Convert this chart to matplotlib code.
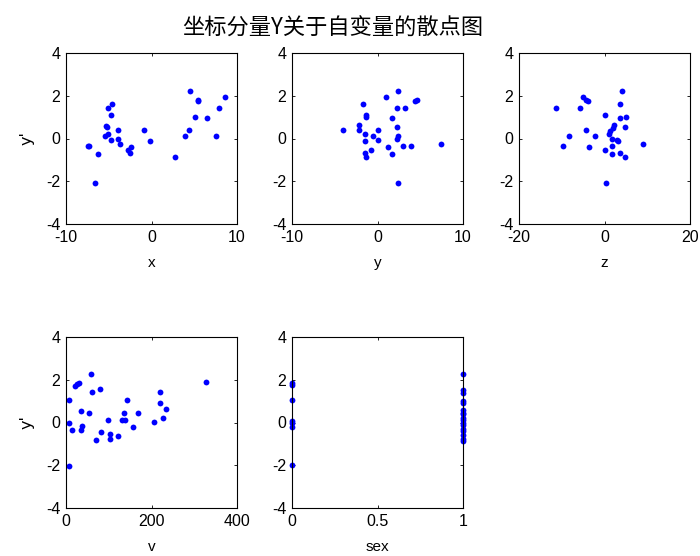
import matplotlib
matplotlib.use('Agg')
import matplotlib.pyplot as plt

# y' against x
x_vals = [-7.3, -7.4, -6.25, -6.6, -5.08, -4.57, -4.77, -5.27, -5.2, -5.43, -5.04, -4.77,
          -3.87, -3.87, -3.71, -2.7, -2.54, -2.34, -0.86, -0.2, 2.7, 3.87, 4.38, 4.53,
          5.04, 5.39, 5.39, 6.52, 7.54, 7.93, 8.6]
yp_x = [-0.35, -0.35, -0.74, -2.1, 1.43, 1.63, 1.08, 0.58, 0.52, 0.13, 0.19, -0.06,
        0.41, 0.0, -0.28, -0.52, -0.67, -0.41, 0.41, -0.14, -0.88, 0.13, 0.41, 2.23,
        1.0, 1.82, 1.76, 0.94, 0.13, 1.43, 1.96]

# y' against y
y_vals = [-3.98, -2.14, -2.14, -1.64, -1.29, -1.29, -1.44, -1.44, -1.44, -1.29, -0.78, -0.58,
          0.08, 0.08, 1.05, 1.25, 1.75, 1.75, 2.26, 2.26, 2.42, 2.26, 2.42, 2.42,
          2.96, 3.27, 3.94, 4.41, 4.64, 7.45]
yp_y = [0.41, 0.63, 0.41, 1.63, 1.08, 1.02, 0.2, -0.14, -0.67, -0.88, -0.53, 0.14,
        0.41, -0.06, 1.96, -0.41, 0.94, -0.74, 1.43, 0.53, 2.23, 0.0, 0.14, -2.1,
        -0.35, 1.43, -0.35, 1.76, 1.82, -0.28]

# y' against z
z_vals = [-11.36, -9.73, -8.4, -5.76, -5.06, -4.36, -3.97, -4.36, -3.66, -2.33, 0.0, 0.0,
          0.3, 1.0, 1.4, 1.7, 1.7, 1.7, 2.0, 2.33, 3.03, 3.1, 3.74, 3.74,
          4.12, 3.74, 4.75, 4.75, 5.13, 9.1]
yp_z = [1.41, -0.35, 0.14, 1.41, 1.96, 1.82, 1.77, 0.41, -0.41, 0.14, 1.08, -0.53,
        -2.1, 0.2, 0.35, -0.35, -0.74, 0.0, 0.49, 0.63, -0.06, -0.14, 1.63, 0.94,
        2.23, -0.67, 0.55, -0.88, 1.02, -0.28]

# y' against v
v_vals = [7.8, 7.8, 7.8, 14.8, 21, 25, 29.6, 34, 34, 38, 57.6, 54.5, 61.5, 70.8, 78.6, 81.7,
          98.8, 102, 102, 122, 132, 135, 139, 142, 156, 169, 206, 219, 219, 226, 233, 327]
yp_v = [1.04, -0.03, -2.02, -0.36, 1.72, 1.8, 1.86, 0.53, -0.36, -0.16, 2.25, 0.43, 1.44, -0.82, 1.58, -0.43,
        0.11, -0.56, -0.76, -0.62, 0.11, 0.43, 0.11, 1.04, -0.22, 0.43, 0.03, 1.44, 0.92, 0.23, 0.64, 1.91]

# y' against sex
sex_vals = [0, 0, 0, 0, 0, 0, 0,
            1, 1, 1, 1, 1, 1, 1, 1, 1, 1, 1, 1, 1, 1, 1, 1, 1]
yp_sex = [1.85, 1.75, 1.04, 0.05, -0.03, -0.2, -2.0,
          2.25, 1.5, 1.4, 1.0, 0.9, 0.6, 0.45, 0.4, 0.2, 0.1, 0.0, -0.1, -0.3, -0.4, -0.6, -0.75, -0.85]

panels = [
    (x_vals, yp_x, 'x', (-10, 10), [-10, 0, 10], ['-10', '0', '10']),
    (y_vals, yp_y, 'y', (-10, 10), [-10, 0, 10], ['-10', '0', '10']),
    (z_vals, yp_z, 'z', (-20, 20), [-20, 0, 20], ['-20', '0', '20']),
    (v_vals, yp_v, 'v', (0, 400), [0, 200, 400], ['0', '200', '400']),
    (sex_vals, yp_sex, 'sex', (0, 1), [0, 0.5, 1], ['0', '0.5', '1']),
]

W, H = 700, 556
lefts = [66, 292, 519, 66, 292]
tops = [53, 53, 53, 337, 337]
aw, ah = 171, 171

fig = plt.figure(figsize=(7, 5.56), dpi=100)
fig.patch.set_facecolor('white')

for i, (xs, ys, lab, xl, xt, xtl) in enumerate(panels):
    ax = fig.add_axes([lefts[i] / W, (H - tops[i] - ah) / H, aw / W, ah / H])
    ax.plot(xs, ys, 'o', color=(0, 0, 1), markersize=4.2, markeredgewidth=0, clip_on=False)
    ax.set_xlim(xl)
    ax.set_ylim(-4, 4)
    ax.set_xticks(xt)
    ax.set_xticklabels(xtl)
    ax.set_yticks([-4, -2, 0, 2, 4])
    ax.set_yticklabels(['-4', '-2', '0', '2', '4'])
    ax.tick_params(direction='in', top=True, right=True, length=2.5, width=0.6,
                   labelsize=11.5, pad=4, colors='black')
    for lbl in ax.get_xticklabels() + ax.get_yticklabels():
        lbl.set_family('Liberation Sans')
    for sp in ax.spines.values():
        sp.set_linewidth(0.8)
        sp.set_color('black')
    ax.set_xlabel(lab, fontsize=11, family='Liberation Sans', labelpad=8)
    if i in (0, 3):
        ax.set_ylabel("y'", fontsize=11.5, family='DejaVu Sans', labelpad=8)

fig.text(333 / W, 1 - 28 / H, '坐标分量Y关于自变量的散点图', ha='center', va='center',
         fontsize=16, family=['Noto Sans CJK SC', 'DejaVu Sans'])

fig.savefig('out.png', dpi=100)
